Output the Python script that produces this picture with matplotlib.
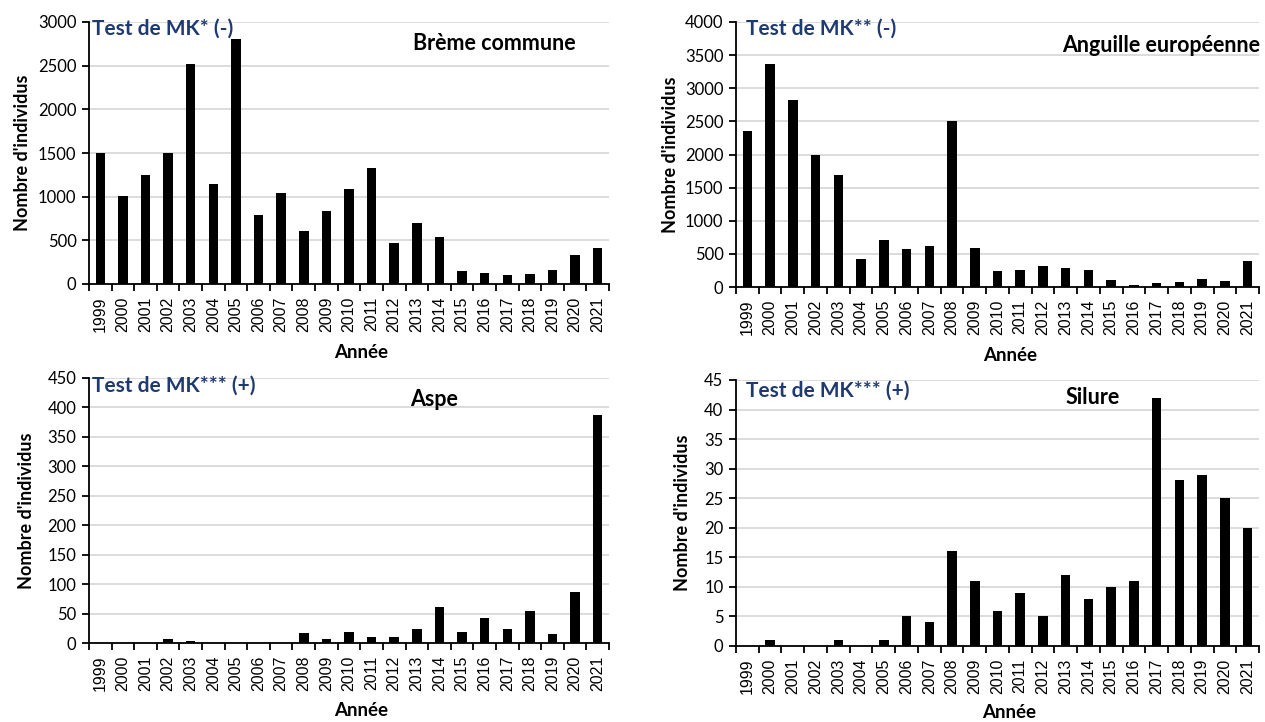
import numpy as np
import matplotlib
matplotlib.use("Agg")
import matplotlib.pyplot as plt
from matplotlib.ticker import MultipleLocator, FixedLocator

W, H = 1265, 722

years = [str(y) for y in range(1999, 2022)]

breme = [1500, 1010, 1245, 1500, 2520, 1145, 2810, 790, 1045, 605, 835, 1090,
         1330, 475, 695, 540, 145, 125, 105, 115, 155, 330, 410]
anguille = [2360, 3370, 2830, 2000, 1690, 430, 710, 575, 625, 2510, 590, 245,
            260, 320, 285, 260, 100, 30, 55, 75, 125, 90, 390]
aspe = [0, 0, 0, 7, 3, 0, 0, 0, 0, 17, 6, 18, 11, 10, 23, 61, 19, 42, 23, 54,
        16, 87, 388]
silure = [0, 1, 0, 0, 1, 0, 1, 5, 4, 16, 11, 6, 9, 5, 12, 8, 10, 11, 42, 28,
          29, 25, 20]

panels = [
    # values, ymax, ystep, species, test, axes box (px: left, top, right, bottom)
    (breme, 3000, 500, "Brème commune", "Test de MK* (-)", (89, 22, 609, 284)),
    (anguille, 4000, 500, "Anguille européenne", "Test de MK** (-)", (736, 22, 1259, 287)),
    (aspe, 450, 50, "Aspe", "Test de MK*** (+)", (89, 378, 609, 643)),
    (silure, 45, 5, "Silure", "Test de MK*** (+)", (736, 380, 1259, 646)),
]
# label positions in px: test text (x, y), species center (x, y), ylabel x, xlabel (x, y)
labels_pos = [
    ((92, 29), (494, 43), 23, (361, 352)),
    ((746, 29), (1161, 45), 670, (1010, 356)),
    ((92, 386), (434, 400), 27, (361, 710)),
    ((746, 391), (1093, 397), 683, (1009, 713)),
]

navy = "#1F3A70"
txt_font = ["Lato", "DejaVu Sans"]

fig = plt.figure(figsize=(W / 100, H / 100), dpi=100)

for (vals, ymax, ystep, species, test, box), lp in zip(panels, labels_pos):
    l, t, r, b = box
    ax = fig.add_axes([l / W, 1 - b / H, (r - l) / W, (b - t) / H])
    x = np.arange(len(years))
    ax.bar(x, vals, width=0.42, color="black", zorder=3)
    ax.set_xlim(-0.5, len(years) - 0.5)
    ax.set_ylim(0, ymax)
    ax.yaxis.set_major_locator(MultipleLocator(ystep))
    ax.grid(axis="y", color="#d9d9d9", linewidth=1.3, zorder=0)
    ax.set_axisbelow(True)
    for s in ["top", "right"]:
        ax.spines[s].set_visible(False)
    for s in ["left", "bottom"]:
        ax.spines[s].set_linewidth(1.3)
        ax.spines[s].set_color("black")

    ax.set_xticks(x)
    ax.set_xticklabels(years, rotation=90, fontsize=11.5, family="Liberation Sans")
    ax.xaxis.set_minor_locator(FixedLocator(np.arange(-0.5, len(years), 1)))
    ax.tick_params(axis="x", which="major", length=0, pad=9)
    ax.tick_params(axis="x", which="minor", length=5, width=1.3, direction="out")
    ax.tick_params(axis="y", length=5, width=1.3, direction="out", labelsize=12, pad=4)
    for lab in ax.get_yticklabels():
        lab.set_family(txt_font)

    tp, sp, ylx, xlp = lp
    fig.text(tp[0] / W, 1 - tp[1] / H, test, color=navy, fontsize=15,
             fontweight="bold", family=txt_font, ha="left", va="center")
    fig.text(sp[0] / W, 1 - sp[1] / H, species, color="black", fontsize=15.5,
             fontweight="bold", family=txt_font, ha="center", va="center")
    fig.text(ylx / W, 1 - (t + b) / 2 / H, "Nombre d'individus", rotation=90,
             fontsize=13, fontweight="bold", family=txt_font, ha="center", va="center")
    fig.text(xlp[0] / W, 1 - xlp[1] / H, "Année", fontsize=13.5, fontweight="bold",
             family=txt_font, ha="center", va="center")

fig.savefig("out.png", dpi=100, facecolor="white")
